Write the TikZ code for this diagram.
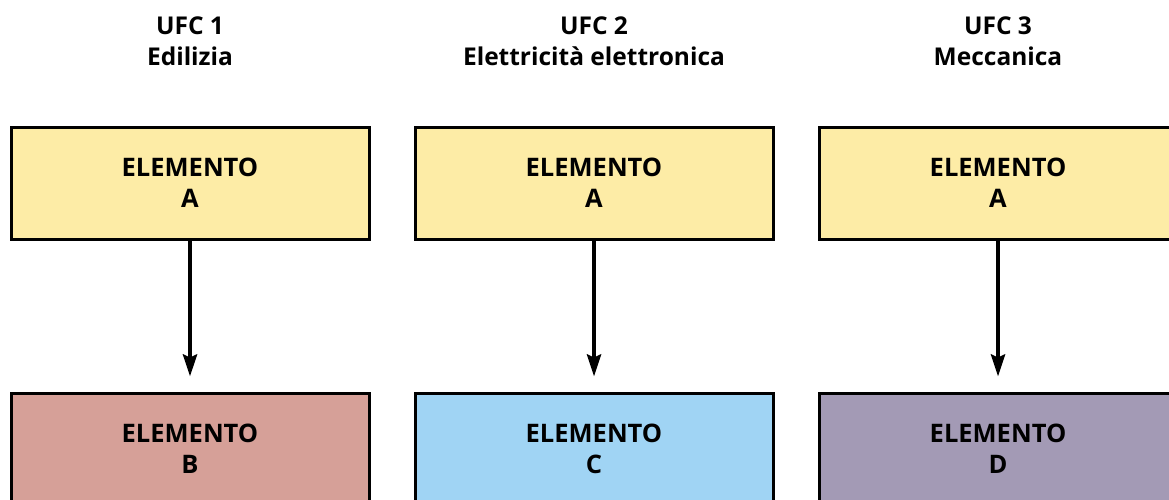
\documentclass[tikz,border=0pt]{standalone}
\usepackage{fontspec}
\setmainfont{Open Sans}
\usetikzlibrary{arrows.meta}
\definecolor{cyel}{RGB}{253,236,166}
\definecolor{crose}{RGB}{214,160,152}
\definecolor{cblue}{RGB}{160,212,244}
\definecolor{cpurp}{RGB}{163,154,181}
\tikzset{
  box/.style={draw=black, line width=3pt, minimum width=358pt, minimum height=112pt, inner sep=0pt,
    align=center, font=\fontsize{25.5}{31}\selectfont\bfseries},
  hdr/.style={align=center, font=\fontsize{24.5}{31}\selectfont\bfseries, inner sep=0pt},
  arr/.style={line width=4pt, -{Stealth[length=22pt,width=14pt,inset=3pt]}, shorten >=15pt}
}
\begin{document}
\begin{tikzpicture}[x=1pt,y=-1pt]
\useasboundingbox (0,0) rectangle (1169,499);
\clip (0,0) rectangle (1169,499);
\node[hdr] (h1) at (190,41) {UFC 1\\Edilizia};
\node[hdr] (h2) at (594,41) {UFC 2\\Elettricità elettronica};
\node[hdr] (h3) at (998,41) {UFC 3\\Meccanica};
\node[box, fill=cyel] (a1) at (190,183) {ELEMENTO\\A};
\node[box, fill=cyel] (a2) at (594,183) {ELEMENTO\\A};
\node[box, fill=cyel] (a3) at (998,183) {ELEMENTO\\A};
\node[box, fill=crose] (b1) at (190,449) {ELEMENTO\\B};
\node[box, fill=cblue] (b2) at (594,449) {ELEMENTO\\C};
\node[box, fill=cpurp] (b3) at (998,449) {ELEMENTO\\D};
\draw[arr] (a1) -- (b1);
\draw[arr] (a2) -- (b2);
\draw[arr] (a3) -- (b3);
\end{tikzpicture}
\end{document}
